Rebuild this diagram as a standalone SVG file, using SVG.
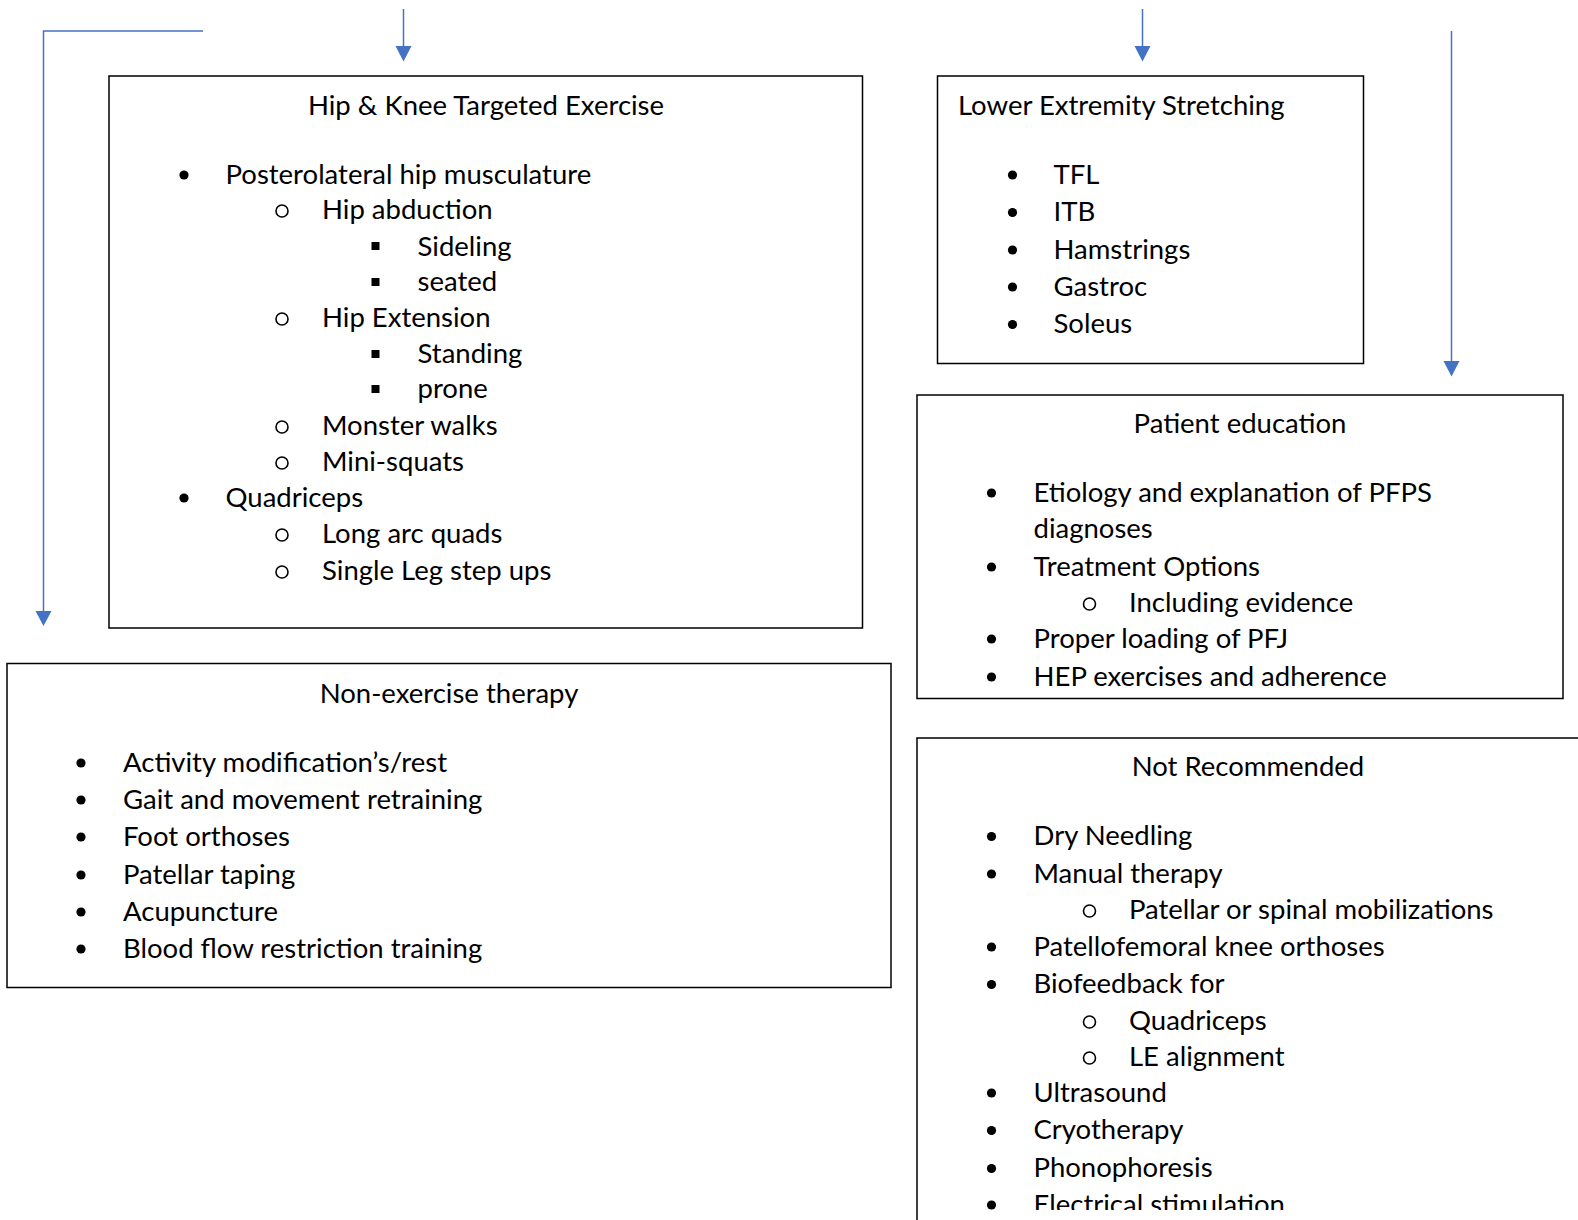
<svg xmlns="http://www.w3.org/2000/svg" width="1578" height="1220" viewBox="0 0 1578 1220">
<style>
.box{fill:#fff;stroke:#000;stroke-width:1.5}
.t{font-family:Lato,"Open Sans","Liberation Sans",sans-serif;font-size:27.5px;fill:#000}
.c{text-anchor:middle}
.conn{fill:none;stroke:#4472C4;stroke-width:1.5}
.dot{fill:#000}
.ring{fill:none;stroke:#000;stroke-width:1.6}
</style>
<defs>
<circle id="b" r="4.6" class="dot"/>
<circle id="o" r="6" class="ring"/>
<rect id="s" x="-4" y="-4" width="8" height="8" class="dot"/>
<clipPath id="clipBottom"><rect x="0" y="0" width="1578" height="1210"/></clipPath>
</defs>

<g id="connectors">
<path class="conn" d="M203,31 H43.5 V611"/>
<path d="M35.5,611 L51.5,611 L43.5,626 Z" fill="#4472C4"/>
<path class="conn" d="M403.5,9 V46"/>
<path d="M395.5,46 L411.5,46 L403.5,61.5 Z" fill="#4472C4"/>
<path class="conn" d="M1142.5,9 V46"/>
<path d="M1134.5,46 L1150.5,46 L1142.5,61.5 Z" fill="#4472C4"/>
<path class="conn" d="M1451.5,31 V361"/>
<path d="M1443.5,361 L1459.5,361 L1451.5,376.5 Z" fill="#4472C4"/>
</g>

<g id="hip-knee">
<rect class="box" x="109" y="76" width="753.5" height="552"/>
<text class="t c" x="486" y="114.5">Hip &amp; Knee Targeted Exercise</text>
<use href="#b" x="184" y="175"/><text class="t" x="225.5" y="183.5">Posterolateral hip musculature</text>
<use href="#o" x="282" y="211"/><text class="t" x="322" y="218.5">Hip abduction</text>
<use href="#s" x="375.5" y="246"/><text class="t" x="417.5" y="255.5">Sideling</text>
<use href="#s" x="375.5" y="282"/><text class="t" x="417.5" y="290.5">seated</text>
<use href="#o" x="282" y="319"/><text class="t" x="322" y="326.5">Hip Extension</text>
<use href="#s" x="375.5" y="354"/><text class="t" x="417.5" y="362.5">Standing</text>
<use href="#s" x="375.5" y="389"/><text class="t" x="417.5" y="397.5">prone</text>
<use href="#o" x="282" y="427"/><text class="t" x="322" y="434.5">Monster walks</text>
<use href="#o" x="282" y="463"/><text class="t" x="322" y="470.5">Mini-squats</text>
<use href="#b" x="184" y="498"/><text class="t" x="225.5" y="506.5">Quadriceps</text>
<use href="#o" x="282" y="535"/><text class="t" x="322" y="542.5">Long arc quads</text>
<use href="#o" x="282" y="572"/><text class="t" x="322" y="579.5">Single Leg step ups</text>
</g>

<g id="lower-extremity">
<rect class="box" x="937.5" y="76" width="426" height="287.5"/>
<text class="t" x="958" y="114.5">Lower Extremity Stretching</text>
<use href="#b" x="1012.5" y="175"/><text class="t" x="1053.5" y="183.5">TFL</text>
<use href="#b" x="1012.5" y="212.5"/><text class="t" x="1053.5" y="221">ITB</text>
<use href="#b" x="1012.5" y="250"/><text class="t" x="1053.5" y="258.5">Hamstrings</text>
<use href="#b" x="1012.5" y="287"/><text class="t" x="1053.5" y="295.5">Gastroc</text>
<use href="#b" x="1012.5" y="324.5"/><text class="t" x="1053.5" y="333">Soleus</text>
</g>

<g id="patient-education">
<rect class="box" x="917" y="395" width="646" height="303.5"/>
<text class="t c" x="1240" y="432.5">Patient education</text>
<use href="#b" x="991.5" y="493"/><text class="t" x="1033.5" y="501.5">Etiology and explanation of PFPS</text>
<text class="t" x="1033.5" y="537.5">diagnoses</text>
<use href="#b" x="991.5" y="567"/><text class="t" x="1033.5" y="575.5">Treatment Options</text>
<use href="#o" x="1089.5" y="604"/><text class="t" x="1129" y="611.5">Including evidence</text>
<use href="#b" x="991.5" y="639"/><text class="t" x="1033.5" y="647.5">Proper loading of PFJ</text>
<use href="#b" x="991.5" y="677"/><text class="t" x="1033.5" y="685.5">HEP exercises and adherence</text>
</g>

<g id="non-exercise">
<rect class="box" x="7" y="663.5" width="884" height="324"/>
<text class="t c" x="449" y="702.5">Non-exercise therapy</text>
<use href="#b" x="81" y="763"/><text class="t" x="123" y="771.5">Activity modification’s/rest</text>
<use href="#b" x="81" y="800"/><text class="t" x="123" y="808.5">Gait and movement retraining</text>
<use href="#b" x="81" y="837"/><text class="t" x="123" y="845.5">Foot orthoses</text>
<use href="#b" x="81" y="875"/><text class="t" x="123" y="883.5">Patellar taping</text>
<use href="#b" x="81" y="912"/><text class="t" x="123" y="920.5">Acupuncture</text>
<use href="#b" x="81" y="949"/><text class="t" x="123" y="957.5">Blood flow restriction training</text>
</g>

<g id="not-recommended">
<path class="box" d="M1580,738 H917 V1222"/>
<g clip-path="url(#clipBottom)">
<text class="t c" x="1248" y="775.5">Not Recommended</text>
<use href="#b" x="991.5" y="836.5"/><text class="t" x="1033.5" y="845">Dry Needling</text>
<use href="#b" x="991.5" y="874"/><text class="t" x="1033.5" y="882.5">Manual therapy</text>
<use href="#o" x="1089.5" y="911"/><text class="t" x="1129" y="918.5">Patellar or spinal mobilizations</text>
<use href="#b" x="991.5" y="947"/><text class="t" x="1033.5" y="955.5">Patellofemoral knee orthoses</text>
<use href="#b" x="991.5" y="984.5"/><text class="t" x="1033.5" y="993">Biofeedback for</text>
<use href="#o" x="1089.5" y="1022"/><text class="t" x="1129" y="1029.5">Quadriceps</text>
<use href="#o" x="1089.5" y="1058"/><text class="t" x="1129" y="1065.5">LE alignment</text>
<use href="#b" x="991.5" y="1093"/><text class="t" x="1033.5" y="1101.5">Ultrasound</text>
<use href="#b" x="991.5" y="1130.5"/><text class="t" x="1033.5" y="1139">Cryotherapy</text>
<use href="#b" x="991.5" y="1168.5"/><text class="t" x="1033.5" y="1177">Phonophoresis</text>
<use href="#b" x="991.5" y="1205"/><text class="t" x="1033.5" y="1213.5">Electrical stimulation</text>
</g>
</g>
</svg>
